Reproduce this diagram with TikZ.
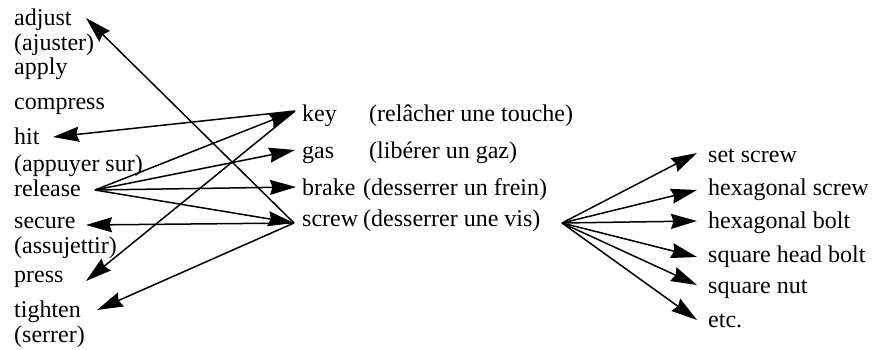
\documentclass[tikz,border=0pt]{standalone}
\usepackage{fontspec}
\setmainfont{Liberation Serif}
\usetikzlibrary{arrows.meta}
\tikzset{
  lbl/.style={anchor=base west, inner sep=0pt, font=\fontsize{24}{27}\selectfont},
  arr/.style={-{Stealth[length=26pt,width=15pt,inset=2.5pt]}, line width=1.5pt},
}
\begin{document}
\begin{tikzpicture}[x=1pt,y=-1pt]
\useasboundingbox (0,0) rectangle (872,349);
% left column
\node[lbl] (adjust) at (14,25) {adjust};
\node[lbl] (ajuster) at (14,50) {(ajuster)};
\node[lbl] (apply) at (14,74) {apply};
\node[lbl] (compress) at (14,109) {compress};
\node[lbl] (hit) at (14,144) {hit};
\node[lbl] (appuyer) at (14,171) {(appuyer sur)};
\node[lbl] (release) at (14,196) {release};
\node[lbl] (secure) at (14,228) {secure};
\node[lbl] (assujettir) at (14,253) {(assujettir)};
\node[lbl] (press) at (14,282) {press};
\node[lbl] (tighten) at (14,317) {tighten};
\node[lbl] (serrer) at (14,342) {(serrer)};
% middle column
\node[lbl] (key) at (302,121) {key};
\node[lbl] (keyfr) at (369,121) {(relâcher une touche)};
\node[lbl] (gas) at (302,158) {gas};
\node[lbl] (gasfr) at (369,158) {(libérer un gaz)};
\node[lbl] (brake) at (302,195) {brake};
\node[lbl] (brakefr) at (363,195) {(desserrer un frein)};
\node[lbl] (screw) at (302,226) {screw};
\node[lbl] (screwfr) at (363,226) {(desserrer une vis)};
% right column
\node[lbl] (setscrew) at (708,162) {set screw};
\node[lbl] (hexscrew) at (708,195) {hexagonal screw};
\node[lbl] (hexbolt) at (708,228) {hexagonal bolt};
\node[lbl] (sqbolt) at (708,262) {square head bolt};
\node[lbl] (sqnut) at (708,293) {square nut};
\node[lbl] (etc) at (708,327) {etc.};
% connection points
\coordinate (relR) at (95,190);
\coordinate (keyL) at (295,111);
\coordinate (gasL) at (295,150);
\coordinate (brakeL) at (296,187);
\coordinate (screwL) at (294,223);
\coordinate (adjustR) at (86,18);
\coordinate (hitR) at (53,137);
\coordinate (secureR) at (86,225);
\coordinate (pressR) at (86,281);
\coordinate (tightenR) at (97,310);
\coordinate (screwR) at (562,223);
\coordinate (setL) at (697,153);
\coordinate (hexsL) at (697,190);
\coordinate (hexbL) at (697,221);
\coordinate (sqbL) at (697,257);
\coordinate (sqnL) at (697,285);
\coordinate (etcL) at (697,320);
% arrows from release
\draw[arr] (relR) -- (keyL);
\draw[arr] (relR) -- (gasL);
\draw[arr] (relR) -- (brakeL);
\draw[arr] (relR) -- (screwL);
% arrows from key
\draw[arr] (keyL) -- (hitR);
\draw[arr] (keyL) -- (pressR);
% arrows from screw (left)
\draw[arr] (screwL) -- (adjustR);
\draw[arr] (screwL) -- (secureR);
\draw[arr] (screwL) -- (tightenR);
% arrows from screw (right)
\draw[arr] (screwR) -- (setL);
\draw[arr] (screwR) -- (hexsL);
\draw[arr] (screwR) -- (hexbL);
\draw[arr] (screwR) -- (sqbL);
\draw[arr] (screwR) -- (sqnL);
\draw[arr] (screwR) -- (etcL);
\end{tikzpicture}
\end{document}
